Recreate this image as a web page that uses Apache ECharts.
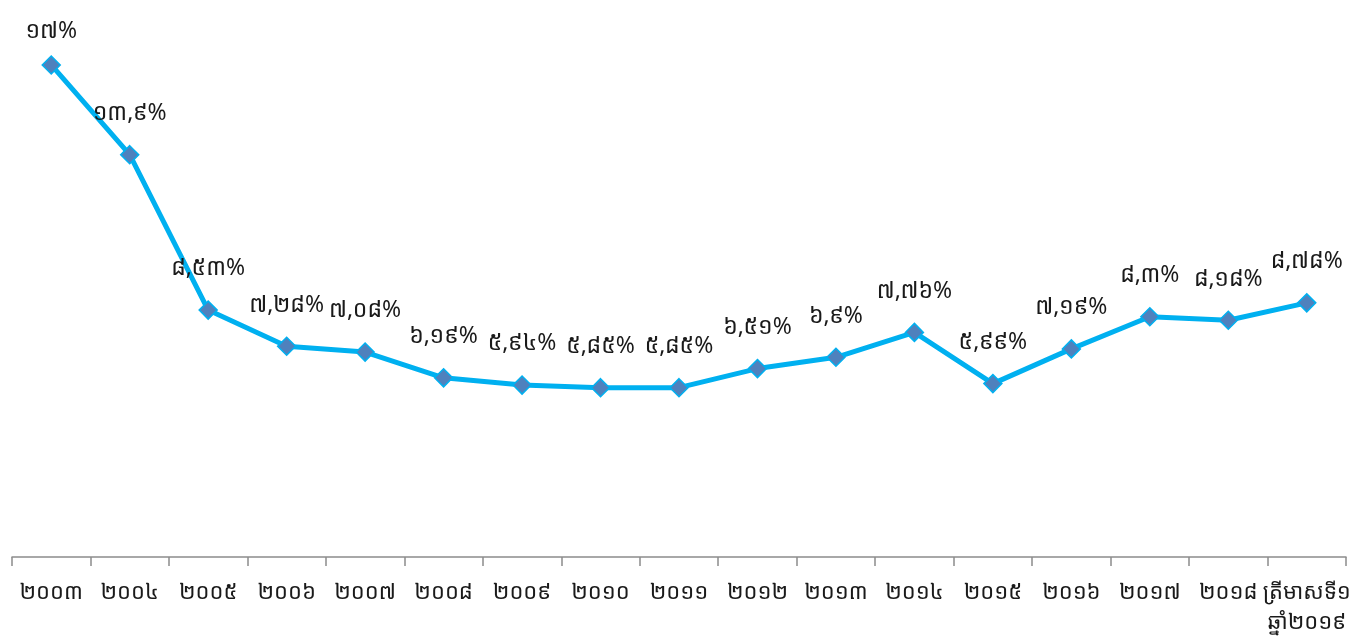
<!DOCTYPE html>
<html>
<head>
<meta charset="utf-8">
<script src="https://cdn.jsdelivr.net/npm/echarts@6/dist/echarts.min.js"></script>
<style>
  html, body { margin: 0; padding: 0; background: #fff; }
  #chart { width: 1364px; height: 640px; }
</style>
</head>
<body>
<div id="chart"></div>
<script>
// Years / periods along the axis (Khmer numerals)
const categories = [
  '២០០៣', '២០០៤', '២០០៥', '២០០៦', '២០០៧', '២០០៨', '២០០៩', '២០១០', '២០១១',
  '២០១២', '២០១៣', '២០១៤', '២០១៥', '២០១៦', '២០១៧', '២០១៨', 'ត្រីមាសទី១\nឆ្នាំ២០១៩'
];
// Rate in percent for each period
const rates = [17, 13.9, 8.53, 7.28, 7.08, 6.19, 5.94, 5.85, 5.85, 6.51, 6.9, 7.76, 5.99, 7.19, 8.3, 8.18, 8.78];

const khmerDigits = ['០', '១', '២', '៣', '៤', '៥', '៦', '៧', '៨', '៩'];
function toKhmer(v) {
  return String(v).replace('.', ',').replace(/[0-9]/g, d => khmerDigits[+d]);
}

const FONT = "'Noto Sans Khmer', 'Khmer OS', 'Noto Sans', sans-serif";

// The first (highest) point keeps its label a little closer so it stays inside the top margin
const seriesData = rates.map((v, i) => i === 0 ? { value: v, label: { distance: 12 } } : v);

const chart = echarts.init(document.getElementById('chart'));
chart.setOption({
  backgroundColor: '#ffffff',
  animation: false,
  grid: { left: 12, right: 18, top: 36, bottom: 83 },
  xAxis: {
    type: 'category',
    data: categories,
    boundaryGap: true,
    axisLine: { show: true, lineStyle: { color: '#8c8c8c', width: 1.5 } },
    axisTick: { show: true, length: 9, alignWithLabel: false, lineStyle: { color: '#8c8c8c', width: 1.5 } },
    axisLabel: {
      interval: 0,
      color: '#1a1a1a',
      fontSize: 22,
      fontFamily: FONT,
      margin: 21,
      lineHeight: 30
    }
  },
  yAxis: {
    type: 'value',
    min: 0,
    max: 18,
    show: false,
    splitLine: { show: false }
  },
  series: [{
    type: 'line',
    data: seriesData,
    lineStyle: { color: '#00b0f0', width: 5 },
    symbol: 'diamond',
    symbolSize: 18,
    itemStyle: { color: '#4f81bd', borderColor: '#00b0f0', borderWidth: 1.5 },
    label: {
      show: true,
      position: 'top',
      distance: 20,
      color: '#1a1a1a',
      fontSize: 23,
      fontFamily: FONT,
      formatter: p => toKhmer(p.value) + '%'
    },
    z: 3
  }]
});
</script>
</body>
</html>
